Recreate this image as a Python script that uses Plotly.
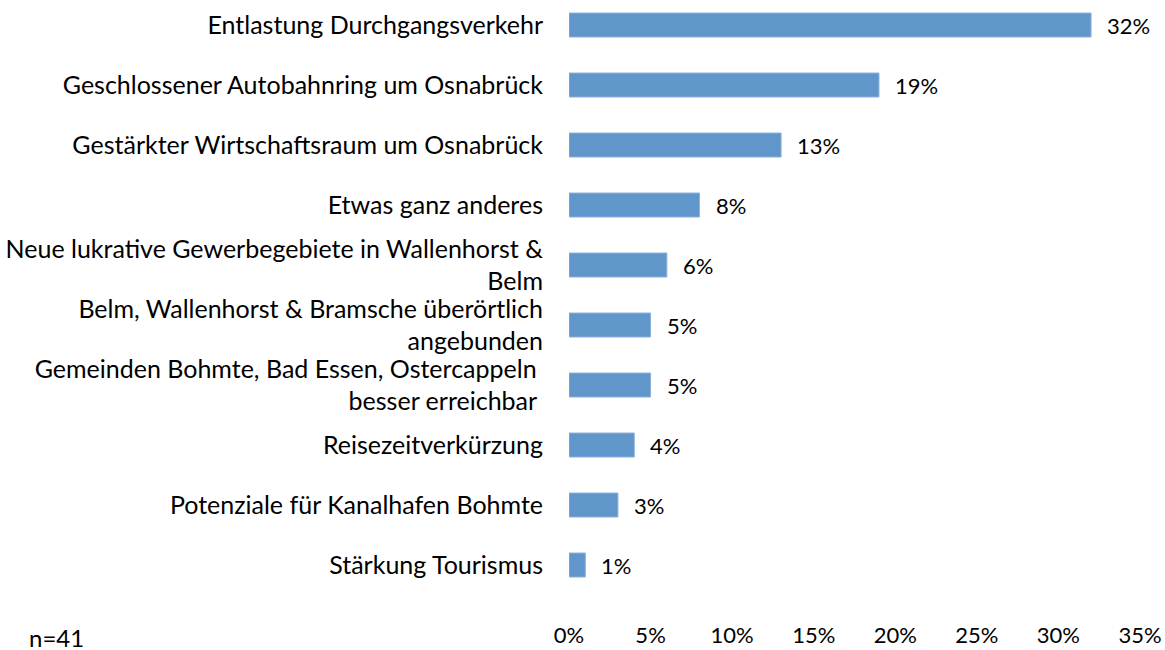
import plotly.graph_objects as go

categories = [
    "Entlastung Durchgangsverkehr",
    "Geschlossener Autobahnring um Osnabrück",
    "Gestärkter Wirtschaftsraum um Osnabrück",
    "Etwas ganz anderes",
    "Neue lukrative Gewerbegebiete in Wallenhorst &<br>Belm",
    "Belm, Wallenhorst & Bramsche überörtlich<br>angebunden",
    "Gemeinden Bohmte, Bad Essen, Ostercappeln\u00a0<br>besser erreichbar\u00a0",
    "Reisezeitverkürzung",
    "Potenziale für Kanalhafen Bohmte",
    "Stärkung Tourismus",
]
values = [32, 19, 13, 8, 6, 5, 5, 4, 3, 1]
value_labels = ["32%", "19%", "13%", "8%", "6%", "5%", "5%", "4%", "3%", "1%"]
x_ticks = [0, 5, 10, 15, 20, 25, 30, 35]
x_tick_labels = ["0%", "5%", "10%", "15%", "20%", "25%", "30%", "35%"]
note = "n=41"

FONT = "Lato"
FS_CAT = 25
FS_NUM = 22
FS_NOTE = 24
positions = list(range(len(categories)))

W, H = 1165, 650
ML, MR, MT, MB = 569, 25, 0, 30

fig = go.Figure()
fig.add_trace(go.Bar(
    x=values, y=positions, orientation="h",
    marker=dict(color="#6096C9", line=dict(color="#8DB3DA", width=1)),
    width=0.4, hoverinfo="skip",
))

for v, p, t in zip(values, positions, value_labels):
    fig.add_annotation(x=v, y=p, xref="x", yref="y", text=t, showarrow=False,
                       xanchor="left", yanchor="middle", xshift=14,
                       font=dict(family=FONT, size=FS_NUM, color="#000000"))

fig.add_annotation(x=(27 - ML) / (W - ML - MR), y=(H - MB - 637) / (H - MT - MB),
                   xref="paper", yref="paper", text=note,
                   showarrow=False, xanchor="left", yanchor="middle",
                   font=dict(family=FONT, size=FS_NOTE, color="#000000"))

fig.update_layout(
    width=W, height=H,
    margin=dict(l=ML, r=MR, t=MT, b=MB, autoexpand=False),
    paper_bgcolor="white", plot_bgcolor="white",
    showlegend=False,
    font=dict(family=FONT, size=FS_CAT, color="#000000"),
    xaxis=dict(range=[0, 35], tickvals=x_ticks, ticktext=x_tick_labels,
               showgrid=False, zeroline=False, showline=False, ticks="",
               automargin=False,
               tickfont=dict(family=FONT, size=FS_NUM, color="#000000")),
    yaxis=dict(range=[9.9167, -0.4167], tickvals=positions, ticktext=categories,
               showgrid=False, zeroline=False, showline=False, ticks="",
               automargin=False, ticklabelstandoff=25,
               tickfont=dict(family=FONT, size=FS_CAT, color="#000000")),
)

fig.write_html("out.html", config={"displayModeBar": False},
               post_script="document.body.style.margin='0';document.body.style.overflow='hidden';")
